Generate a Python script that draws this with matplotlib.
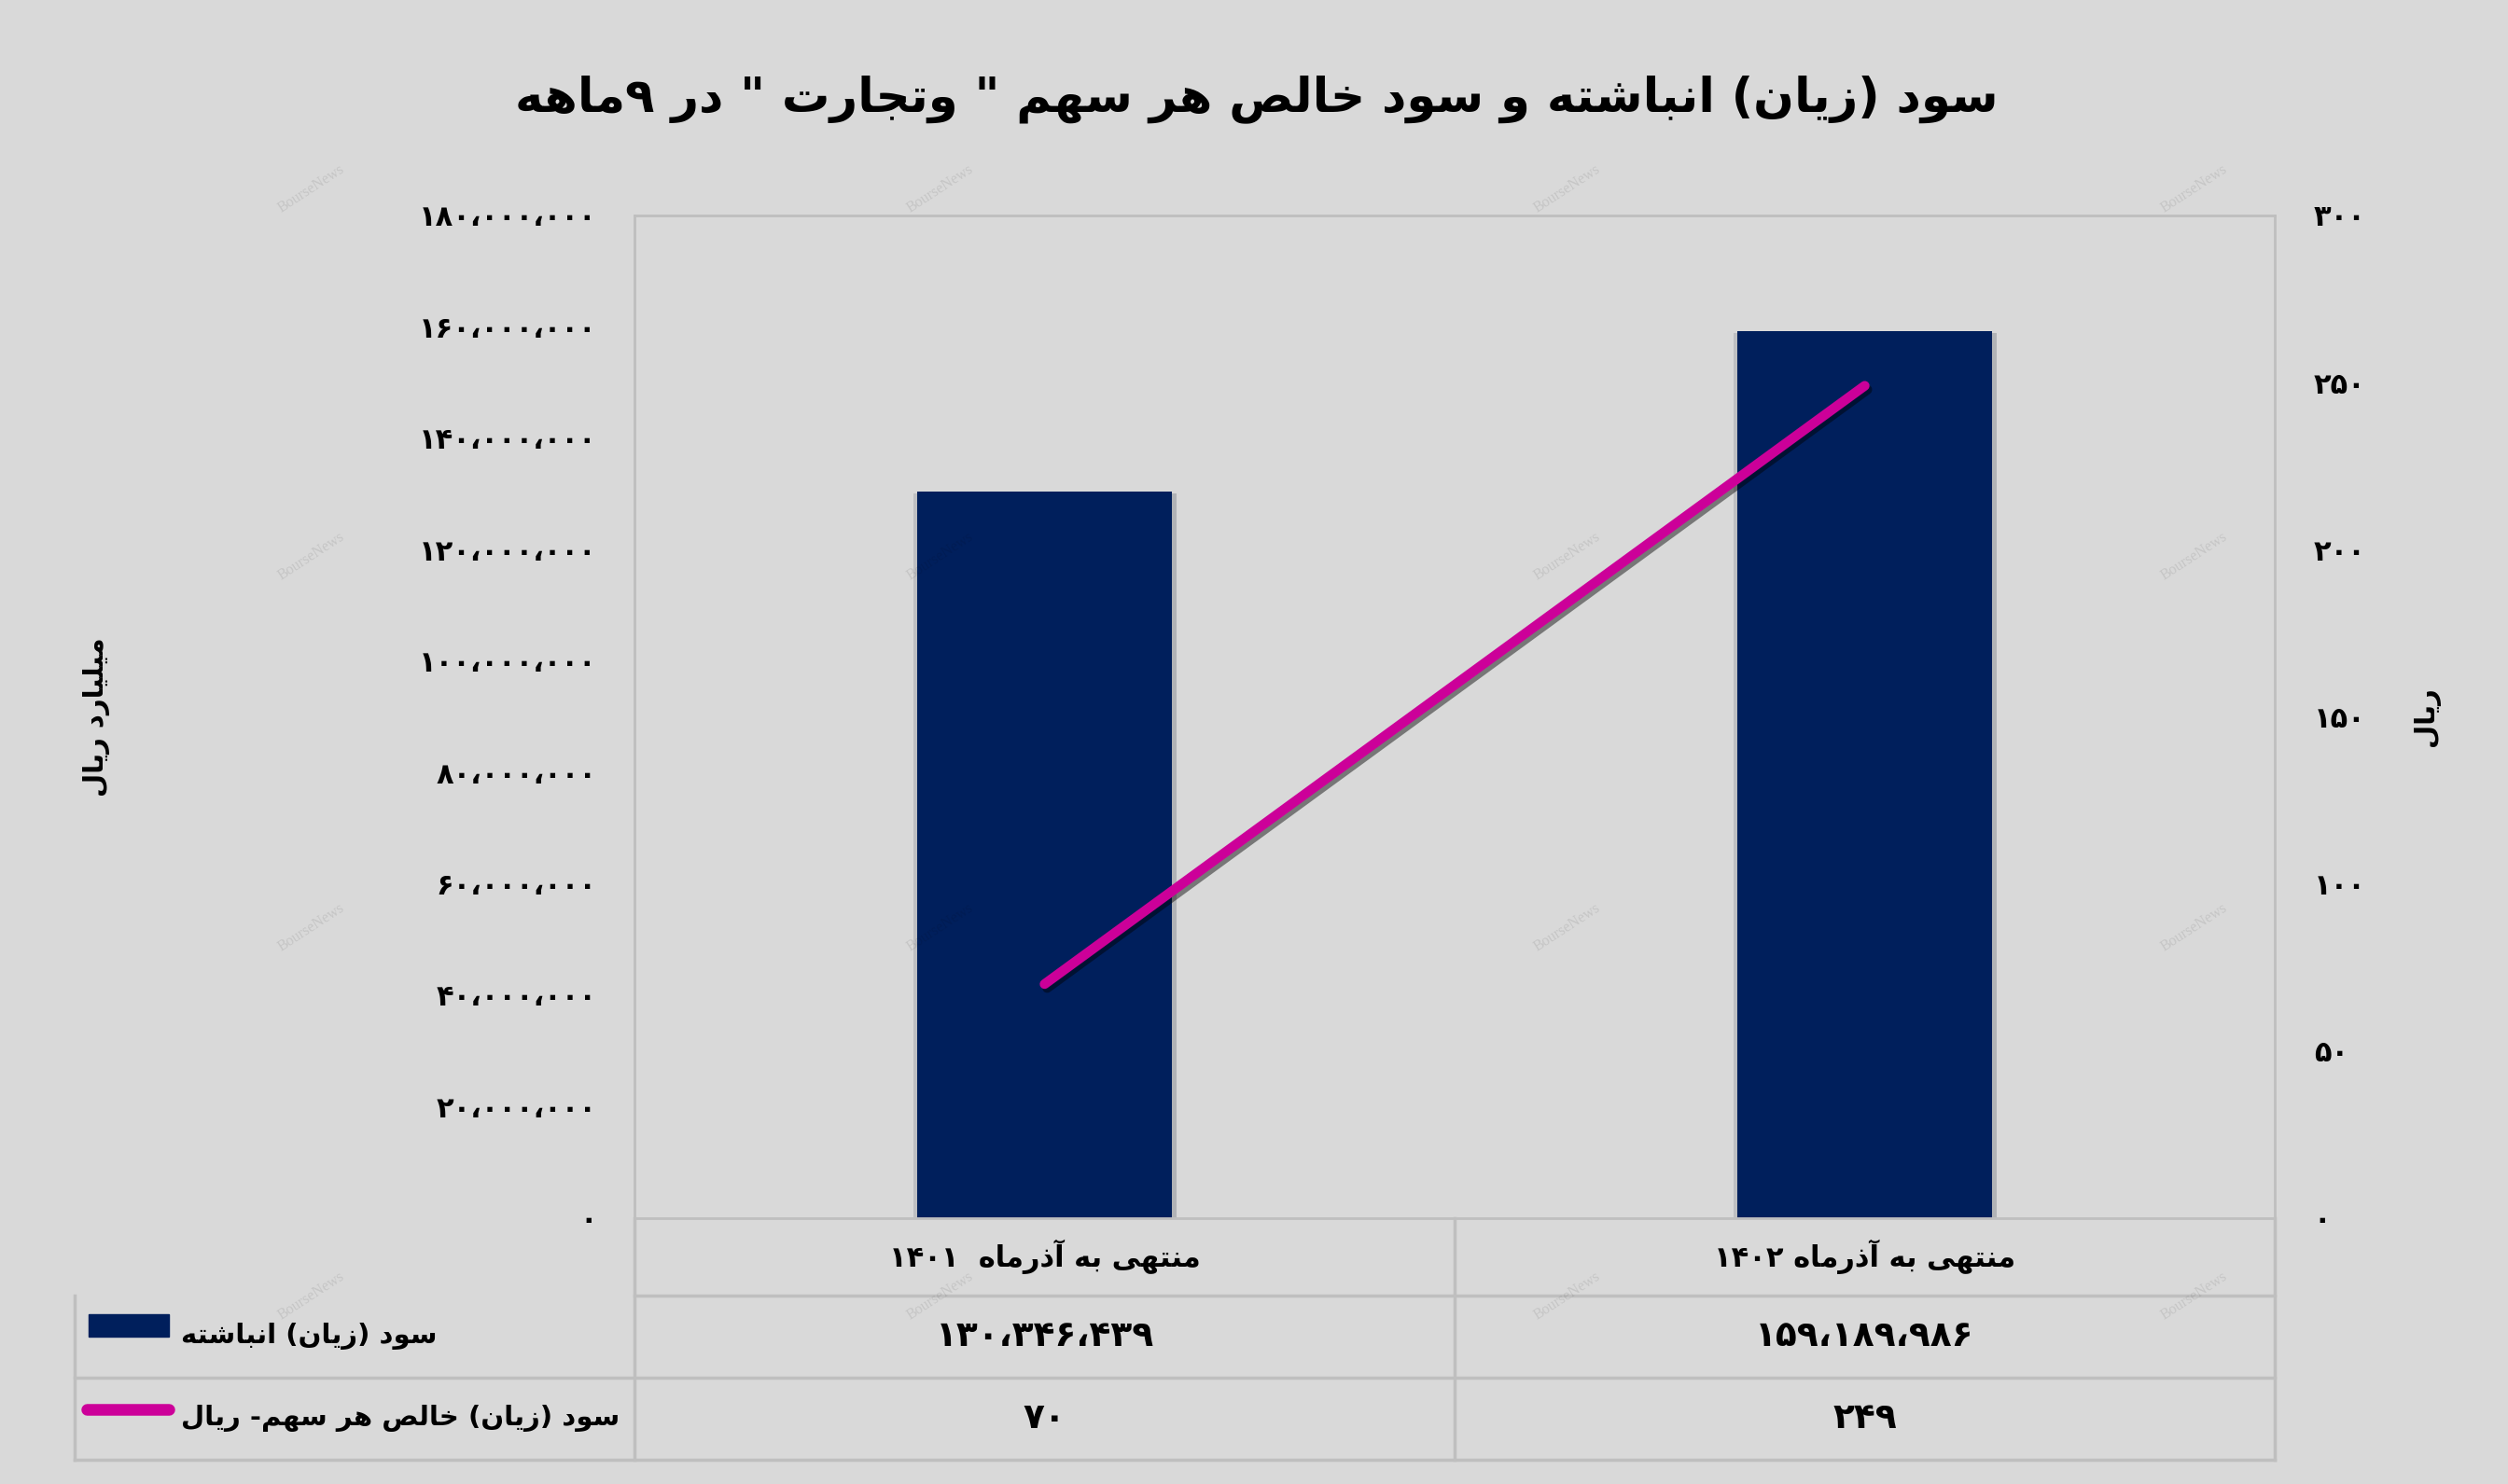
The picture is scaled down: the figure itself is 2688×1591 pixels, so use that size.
import re
import matplotlib
matplotlib.use('Agg')
import matplotlib.pyplot as plt
import matplotlib.patheffects as pe
from matplotlib.ticker import FuncFormatter, MultipleLocator

# Data
categories = ['منتهی به آذرماه  ۱۴۰۱', 'منتهی به آذرماه ۱۴۰۲']
retained = [130346439, 159189986]      # سود (زیان) انباشته - میلیارد ریال
eps = [70, 249]                        # سود (زیان) خالص هر سهم - ریال
series_names = ['سود (زیان) انباشته', 'سود (زیان) خالص هر سهم- ریال']
title = 'سود (زیان) انباشته و سود خالص هر سهم " وتجارت " در ۹ماهه'
left_label = 'میلیارد ریال'
right_label = 'ریال'

BAR = '#001f5c'
LINE = '#cc0099'
BG = '#d9d9d9'
GRID = '#bfbfbf'

# matplotlib does no arabic shaping, so pick presentation forms by hand
FORMS = {
    'ا': '\uFE8D\uFE8E', 'آ': '\uFE81\uFE82', 'د': '\uFEA9\uFEAA', 'ذ': '\uFEAB\uFEAC',
    'ر': '\uFEAD\uFEAE', 'ز': '\uFEAF\uFEB0', 'و': '\uFEED\uFEEE',
    'ب': '\uFE8F\uFE90\uFE91\uFE92', 'ت': '\uFE95\uFE96\uFE97\uFE98',
    'ج': '\uFE9D\uFE9E\uFE9F\uFEA0', 'خ': '\uFEA5\uFEA6\uFEA7\uFEA8',
    'س': '\uFEB1\uFEB2\uFEB3\uFEB4', 'ش': '\uFEB5\uFEB6\uFEB7\uFEB8',
    'ص': '\uFEB9\uFEBA\uFEBB\uFEBC', 'ل': '\uFEDD\uFEDE\uFEDF\uFEE0',
    'م': '\uFEE1\uFEE2\uFEE3\uFEE4', 'ن': '\uFEE5\uFEE6\uFEE7\uFEE8',
    'ه': '\uFEE9\uFEEA\uFEEB\uFEEC', 'ی': '\uFBFC\uFBFD\uFBFE\uFBFF',
}
MIRROR = str.maketrans('()', ')(')


def shape(s):
    out = []
    for i, ch in enumerate(s):
        if ch not in FORMS:
            out.append(ch)
            continue
        prev = s[i - 1] if i > 0 else ''
        nxt = s[i + 1] if i + 1 < len(s) else ''
        jp = prev in FORMS and len(FORMS[prev]) == 4
        jn = len(FORMS[ch]) == 4 and nxt in FORMS
        idx = 3 if (jp and jn) else 1 if jp else 2 if jn else 0
        out.append(FORMS[ch][idx])
    return ''.join(out)


def fa(s):
    s = shape(s)
    runs = re.findall(r'[۰-۹0-9]+(?:[،,][۰-۹0-9]+)*|[^۰-۹0-9]+', s)
    vis = []
    for r in reversed(runs):
        if r[0] in '۰۱۲۳۴۵۶۷۸۹0123456789':
            vis.append(r)
        else:
            vis.append(r[::-1].translate(MIRROR))
    return ''.join(vis)


def fnum(v):
    return f'{int(v):,}'.translate(str.maketrans('0123456789,', '۰۱۲۳۴۵۶۷۸۹،'))


plt.rcParams['font.family'] = ['DejaVu Sans']
plt.rcParams['font.weight'] = 'bold'

fig = plt.figure(figsize=(26.88, 15.91), dpi=100, facecolor=BG)
ax = fig.add_axes([0.2530, 0.1792, 0.6540, 0.6757], facecolor=BG)
x = list(range(len(categories)))

bars = ax.bar(x, retained, width=0.31, color=BAR, zorder=2)
for b in bars:
    b.set_path_effects([pe.SimplePatchShadow(offset=(4, -1), alpha=0.18),
                        pe.SimplePatchShadow(offset=(-3, -1), alpha=0.12), pe.Normal()])
ax.set_xlim(-0.5, 1.5)
ax.set_ylim(0, 180000000)
ax.yaxis.set_major_locator(MultipleLocator(20000000))
ax.yaxis.set_major_formatter(FuncFormatter(lambda v, p: fnum(v)))
ax.set_xticks([])
ax.tick_params(axis='y', length=0, pad=29, labelsize=22)
for sp in ax.spines.values():
    sp.set_color(GRID)
    sp.set_linewidth(2)

ax2 = ax.twinx()
ax2.plot(x, eps, color=LINE, lw=7.5, solid_capstyle='round', zorder=3,
         path_effects=[pe.SimpleLineShadow(offset=(2, -3), alpha=0.45), pe.Normal()])
ax2.set_ylim(0, 300)
ax2.yaxis.set_major_locator(MultipleLocator(50))
ax2.yaxis.set_major_formatter(FuncFormatter(lambda v, p: fnum(v)))
ax2.tick_params(axis='y', length=0, pad=30, labelsize=22)
for sp in ax2.spines.values():
    sp.set_visible(False)

fig.text(0.0385, 0.517, fa(left_label), rotation=90, ha='center', va='center', fontsize=21)
fig.text(0.9675, 0.517, fa(right_label), rotation=90, ha='center', va='center', fontsize=21)
fig.text(0.501, 0.933, fa(title), ha='center', va='center', fontsize=37)

# data table under the plot
rows = [0, -0.077, -0.159, -0.241]
tl = -0.3413
kw = dict(transform=ax.transAxes, color=GRID, lw=2.5, clip_on=False)
ax.plot([0, 1], [rows[1]] * 2, **kw)
for yy in rows[2:]:
    ax.plot([tl, 1], [yy] * 2, **kw)
ax.plot([0, 0], [0, rows[3]], **kw)
ax.plot([0.5, 0.5], [0, rows[3]], **kw)
ax.plot([1, 1], [0, rows[3]], **kw)
ax.plot([tl, tl], [rows[1], rows[3]], **kw)

tr = ax.get_xaxis_transform()
ymid = [(rows[k] + rows[k + 1]) / 2 for k in range(3)]
for i, c in enumerate(categories):
    ax.text(i, ymid[0], fa(c), transform=tr, ha='center', va='center', fontsize=22)
    ax.text(i, ymid[1], fnum(retained[i]), transform=tr, ha='center', va='center', fontsize=27)
    ax.text(i, ymid[2], fnum(eps[i]), transform=tr, ha='center', va='center', fontsize=27)

ax.add_patch(plt.Rectangle((-0.333, ymid[1]), 0.049, 0.022, transform=ax.transAxes,
                           color=BAR, clip_on=False))
ax.plot([-0.334, -0.284], [ymid[2] + 0.009] * 2, transform=ax.transAxes, color=LINE,
        lw=9, solid_capstyle='round', clip_on=False)
ax.text(-0.2765, ymid[1], fa(series_names[0]), transform=ax.transAxes, ha='left', va='center', fontsize=21)
ax.text(-0.2765, ymid[2], fa(series_names[1]), transform=ax.transAxes, ha='left', va='center', fontsize=21)

# faint watermarks
for wx in [0.124, 0.375, 0.625, 0.875]:
    for wy in [0.873, 0.625, 0.375, 0.127]:
        fig.text(wx, wy, 'BourseNews', rotation=33, ha='center', va='center', zorder=10,
                 fontsize=11.5, family='Liberation Serif', weight='normal', color='black', alpha=0.09)

fig.savefig('out.png', dpi=100, facecolor=BG)
